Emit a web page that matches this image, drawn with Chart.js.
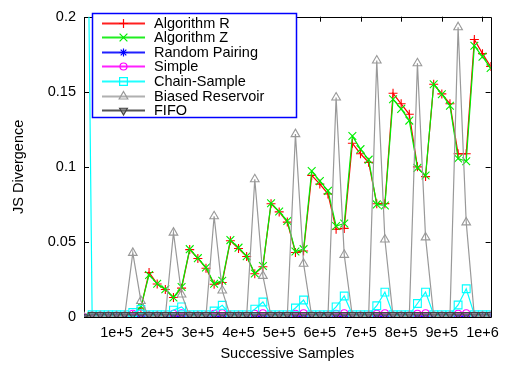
<!DOCTYPE html>
<html>
<head>
<meta charset="utf-8">
<script src="https://cdn.jsdelivr.net/npm/chart.js@4/dist/chart.umd.min.js"></script>
<style>
  html, body { margin: 0; padding: 0; background: #ffffff; }
  #wrap { width: 506px; height: 367px; }
</style>
</head>
<body>
<div id="wrap"><canvas id="c" width="506" height="367"></canvas></div>
<script>
// Sample counts at which the divergence was measured
const xSamples = [20000, 40000, 60000, 80000, 100000, 120000, 140000, 160000, 180000, 200000,
  220000, 240000, 260000, 280000, 300000, 320000, 340000, 360000, 380000, 400000,
  420000, 440000, 460000, 480000, 500000, 520000, 540000, 560000, 580000, 600000,
  620000, 640000, 660000, 680000, 700000, 720000, 740000, 760000, 780000, 800000,
  820000, 840000, 860000, 880000, 900000, 920000, 940000, 960000, 980000, 1000000, 1020000];

const algorithmR = [0, 0.0005, 0.0005, 0.0005, 0.0005, 0.0005, 0.001, 0.006, 0.0296, 0.022,
  0.0183, 0.0130, 0.0192, 0.0449, 0.0390, 0.0325, 0.0218, 0.0230, 0.0508, 0.0456,
  0.0403, 0.0288, 0.0335, 0.0754, 0.0700, 0.0632, 0.0430, 0.0440, 0.0943, 0.0885,
  0.0820, 0.0584, 0.0590, 0.1157, 0.1087, 0.1030, 0.0754, 0.0755, 0.1490, 0.1420,
  0.1350, 0.1000, 0.0935, 0.1550, 0.1486, 0.1420, 0.1087, 0.1087, 0.1848, 0.1754, 0.1669];

const algorithmZ = [0, 0.0005, 0.0005, 0.0005, 0.0005, 0.0005, 0.001, 0.007, 0.0280, 0.0222,
  0.0185, 0.0130, 0.0200, 0.0452, 0.0392, 0.0330, 0.0222, 0.0242, 0.0512, 0.0462,
  0.0405, 0.0290, 0.0340, 0.0758, 0.0702, 0.0640, 0.0436, 0.0452, 0.0972, 0.0905,
  0.0840, 0.0606, 0.0623, 0.1205, 0.1118, 0.1048, 0.0750, 0.0743, 0.1450, 0.1386,
  0.1308, 0.0993, 0.0943, 0.1550, 0.1484, 0.1407, 0.1056, 0.1037, 0.1806, 0.1734, 0.1658];

const randomPairing = [0, 0.0005, 0.0005, 0.0005, 0.0005, 0.0005, 0.0006, 0.0006, 0.0005, 0.0005,
  0.0005, 0.0006, 0.0006, 0.0005, 0.0005, 0.0005, 0.0006, 0.0006, 0.0005, 0.0005,
  0.0005, 0.0006, 0.0006, 0.0005, 0.0005, 0.0005, 0.0006, 0.0006, 0.0005, 0.0005,
  0.0005, 0.0006, 0.0006, 0.0005, 0.0005, 0.0005, 0.0006, 0.0006, 0.0005, 0.0005,
  0.0005, 0.0006, 0.0006, 0.0005, 0.0005, 0.0005, 0.0006, 0.0006, 0.0005, 0.0005, 0.0005];

const simple = [0, 0.001, 0.001, 0.001, 0.001, 0.001, 0.0022, 0.0025, 0.001, 0.001,
  0.001, 0.0022, 0.0025, 0.001, 0.001, 0.001, 0.0022, 0.0025, 0.001, 0.001,
  0.001, 0.0022, 0.0025, 0.001, 0.001, 0.001, 0.0022, 0.0025, 0.001, 0.001,
  0.001, 0.0022, 0.0025, 0.001, 0.001, 0.001, 0.0022, 0.0025, 0.001, 0.001,
  0.001, 0.0022, 0.0025, 0.001, 0.001, 0.001, 0.0022, 0.0025, 0.001, 0.001, 0.001];

const chainSample = [0.51, 0.0015, 0.0015, 0.0015, 0.0015, 0.0015, 0.0030, 0.0050, 0.0015, 0.0015,
  0.0015, 0.0046, 0.0067, 0.0015, 0.0015, 0.0015, 0.0040, 0.0078, 0.0015, 0.0015,
  0.0015, 0.0052, 0.0100, 0.0015, 0.0015, 0.0015, 0.0060, 0.0113, 0.0015, 0.0015,
  0.0015, 0.0067, 0.0140, 0.0015, 0.0015, 0.0015, 0.0075, 0.0166, 0.0015, 0.0015,
  0.0015, 0.0090, 0.0166, 0.0015, 0.0015, 0.0015, 0.0080, 0.0188, 0.0015, 0.0015, 0.0015];

const biasedReservoir = [0, 0.0005, 0.0005, 0.0005, 0.0005, 0.0005, 0.0427, 0.0107, 0.0005, 0.0005,
  0.0005, 0.0562, 0.0150, 0.0005, 0.0005, 0.0005, 0.0671, 0.0176, 0.0005, 0.0005,
  0.0005, 0.0917, 0.0274, 0.0005, 0.0005, 0.0005, 0.1218, 0.0355, 0.0005, 0.0005,
  0.0005, 0.1462, 0.0414, 0.0005, 0.0005, 0.0005, 0.1708, 0.0516, 0.0005, 0.0005,
  0.0005, 0.1690, 0.0530, 0.0005, 0.0005, 0.0005, 0.1930, 0.0630, 0.0005, 0.0005, 0.0005];

const fifo = [0, 0.0015, 0.0015, 0.0015, 0.0015, 0.0015, 0.0015, 0.0015, 0.0015, 0.0015,
  0.0015, 0.0015, 0.0015, 0.0015, 0.0015, 0.0015, 0.0015, 0.0015, 0.0015, 0.0015,
  0.0015, 0.0015, 0.0015, 0.0015, 0.0015, 0.0015, 0.0015, 0.0015, 0.0015, 0.0015,
  0.0015, 0.0015, 0.0015, 0.0015, 0.0015, 0.0015, 0.0015, 0.0015, 0.0015, 0.0015,
  0.0015, 0.0015, 0.0015, 0.0015, 0.0015, 0.0015, 0.0015, 0.0015, 0.0015, 0.0015, 0.0015];

const seriesNames = ['Algorithm R', 'Algorithm Z', 'Random Pairing', 'Simple', 'Chain-Sample', 'Biased Reservoir', 'FIFO'];

const xTickValues = [100000, 200000, 300000, 400000, 500000, 600000, 700000, 800000, 900000, 1000000];
const xTickLabels = ['1e+5', '2e+5', '3e+5', '4e+5', '5e+5', '6e+5', '7e+5', '8e+5', '9e+5', '1e+6'];
const yTickValues = [0, 0.05, 0.1, 0.15, 0.2];
const yTickLabels = ['0', '0.05', '0.1', '0.15', '0.2'];

const FONT = "'Liberation Sans', Arial, Helvetica, sans-serif";
const FONT_SIZE = 14.5;

function points(values) {
  return values.map((v, i) => ({ x: xSamples[i], y: v }));
}

const styles = [
  { color: '#ff0000', keyColor: '#ff2020', pointStyle: 'cross', radius: 4.5, fill: 'rgba(0,0,0,0)', rotation: 0 },
  { color: '#00ee00', keyColor: '#20ee20', pointStyle: 'crossRot', radius: 5.5, fill: 'rgba(0,0,0,0)', rotation: 0 },
  { color: '#0000ff', keyColor: '#2020ff', pointStyle: 'star', radius: 4, fill: 'rgba(0,0,0,0)', rotation: 0 },
  { color: '#ff00ff', keyColor: '#ff20ff', pointStyle: 'circle', radius: 3.5, fill: 'rgba(0,0,0,0)', rotation: 0 },
  { color: '#00ffff', keyColor: '#20ffff', pointStyle: 'rect', radius: 5.5, fill: 'rgba(0,0,0,0)', rotation: 0 },
  { color: '#999999', keyColor: '#b0b0b0', pointStyle: 'triangle', radius: 5, fill: 'rgba(0,0,0,0)', rotation: 0 },
  { color: '#444444', keyColor: '#555555', pointStyle: 'triangle', radius: 4.5, fill: 'rgba(120,120,120,0.6)', rotation: 180 }
];

const seriesValues = [algorithmR, algorithmZ, randomPairing, simple, chainSample, biasedReservoir, fifo];

const datasets = seriesValues.map((vals, i) => ({
  label: seriesNames[i],
  data: points(vals),
  borderColor: styles[i].color,
  backgroundColor: styles[i].color,
  borderWidth: 1.2,
  pointStyle: styles[i].pointStyle,
  pointRadius: styles[i].radius,
  pointRotation: styles[i].rotation,
  pointBorderColor: styles[i].color,
  pointBackgroundColor: styles[i].fill,
  pointBorderWidth: 1.1,
  tension: 0,
  fill: false,
  // later series are painted over earlier ones
  order: seriesValues.length - i
}));

// Plot frame with inward tick marks on all four sides
const framePlugin = {
  id: 'frame',
  beforeDatasetsDraw(chart) {
    const { ctx, chartArea: a, scales } = chart;
    ctx.save();
    ctx.strokeStyle = '#000000';
    ctx.lineWidth = 1;
    ctx.beginPath();
    ctx.rect(Math.round(a.left) + 0.5, Math.round(a.top) + 0.5,
      Math.round(a.right - a.left), Math.round(a.bottom - a.top));
    ctx.stroke();
    const len = 5;
    ctx.beginPath();
    xTickValues.forEach(v => {
      const px = Math.round(scales.x.getPixelForValue(v)) + 0.5;
      ctx.moveTo(px, a.bottom); ctx.lineTo(px, a.bottom - len);
      ctx.moveTo(px, a.top); ctx.lineTo(px, a.top + len);
    });
    yTickValues.forEach(v => {
      const py = Math.round(scales.y.getPixelForValue(v)) + 0.5;
      ctx.moveTo(a.left, py); ctx.lineTo(a.left + len, py);
      ctx.moveTo(a.right, py); ctx.lineTo(a.right - len, py);
    });
    ctx.stroke();
    ctx.restore();
  }
};

// Key box in the upper left of the plot
const keyPlugin = {
  id: 'key',
  afterDatasetsDraw(chart) {
    const { ctx } = chart;
    const box = { x: 92.5, y: 13.5, w: 204, h: 104 };
    ctx.save();
    ctx.fillStyle = '#ffffff';
    ctx.fillRect(box.x, box.y, box.w, box.h);
    ctx.strokeStyle = '#0000ff';
    ctx.lineWidth = 1.5;
    ctx.strokeRect(box.x, box.y, box.w, box.h);
    ctx.font = FONT_SIZE + 'px ' + FONT;
    ctx.textBaseline = 'middle';
    ctx.textAlign = 'left';
    seriesNames.forEach((name, i) => {
      const st = styles[i];
      const y = Math.round(22.5 + i * 14.6);
      // sample line of the series
      ctx.fillStyle = st.keyColor;
      ctx.fillRect(102, y - 0.5, 43, 2);
      // marker of the series
      ctx.save();
      ctx.lineWidth = 1.2;
      ctx.strokeStyle = st.color;
      ctx.fillStyle = st.fill;
      Chart.helpers.drawPoint(ctx, {
        pointStyle: st.pointStyle,
        rotation: st.rotation,
        radius: st.radius,
        borderWidth: 1.2
      }, 123.5, y + 0.5);
      ctx.restore();
      ctx.fillStyle = '#000000';
      ctx.fillText(name, 154, y + 0.5);
    });
    ctx.restore();
  }
};

new Chart(document.getElementById('c'), {
  type: 'line',
  data: { datasets },
  plugins: [framePlugin, keyPlugin],
  options: {
    responsive: false,
    animation: false,
    events: [],
    layout: { padding: { left: 0, right: 9, top: 10, bottom: 0 } },
    plugins: { legend: { display: false }, tooltip: { enabled: false } },
    scales: {
      x: {
        type: 'linear',
        min: 20000,
        max: 1020000,
        afterBuildTicks(scale) { scale.ticks = xTickValues.map(v => ({ value: v })); },
        afterFit(scale) { scale.height = 50; },
        grid: { display: false, drawTicks: false },
        border: { display: false },
        ticks: {
          autoSkip: false,
          maxRotation: 0,
          padding: 7,
          color: '#000000',
          font: { family: FONT, size: FONT_SIZE },
          callback: (v) => {
            const idx = xTickValues.indexOf(v);
            return idx >= 0 ? xTickLabels[idx] : '';
          }
        },
        title: {
          display: true,
          text: 'Successive Samples',
          color: '#000000',
          font: { family: FONT, size: FONT_SIZE },
          padding: { top: 0, bottom: 4 }
        }
      },
      y: {
        type: 'linear',
        min: 0,
        max: 0.2,
        afterBuildTicks(scale) { scale.ticks = yTickValues.map(v => ({ value: v })); },
        afterFit(scale) { scale.width = 84; },
        grid: { display: false, drawTicks: false },
        border: { display: false },
        ticks: {
          padding: 8,
          color: '#000000',
          font: { family: FONT, size: FONT_SIZE },
          callback: (v) => {
            const idx = yTickValues.findIndex(t => Math.abs(t - v) < 1e-9);
            return idx >= 0 ? yTickLabels[idx] : '';
          }
        },
        title: {
          display: true,
          text: 'JS Divergence',
          color: '#000000',
          font: { family: FONT, size: FONT_SIZE },
          padding: { top: 10, bottom: 0 }
        }
      }
    }
  }
});
</script>
</body>
</html>
